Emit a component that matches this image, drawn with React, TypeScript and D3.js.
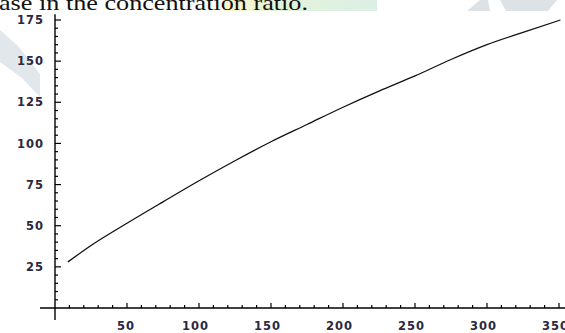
import React, { useRef, useEffect } from "react";
import * as d3 from "d3";

// concentration ratio (x) vs response (y)
const xValues = [9, 25, 50, 75, 100, 125, 150, 175, 200, 225, 250, 275, 300, 325, 351];
const yValues = [28, 38, 51.5, 64.5, 77.3, 89.5, 101, 111.5, 122, 131.8, 141, 151, 160, 167.5, 175];
const xTicks = [50, 100, 150, 200, 250, 300, 350];
const yTicks = [25, 50, 75, 100, 125, 150, 175];
const caption = "ase in the concentration ratio.";

const W = 565;
const H = 333;

const App = () => {
  const ref = useRef<SVGSVGElement>(null);

  useEffect(() => {
    const svg = d3.select(ref.current);
    svg.selectAll("*").remove();

    const x = d3.scaleLinear().domain([0, 350]).range([55, 559]);
    const y = d3.scaleLinear().domain([0, 175]).range([308, 20]);

    // scanned page background bits (watermark + highlight)
    const defs = svg.append("defs");
    const grad = defs.append("linearGradient").attr("id", "hl");
    grad.append("stop").attr("offset", "0%").attr("stop-color", "#fdf7c8");
    grad.append("stop").attr("offset", "35%").attr("stop-color", "#e3f3d9");
    grad.append("stop").attr("offset", "100%").attr("stop-color", "#dcefe6");
    svg.append("rect").attr("x", 223).attr("y", 0).attr("width", 154).attr("height", 11)
      .attr("fill", "url(#hl)");
    svg.append("path").attr("d", "M467,11 L480,0 L488,0 L490,11 Z").attr("fill", "#dde2e6");
    svg.append("path").attr("d", "M500,0 L557,0 L548,11 L506,11 Z").attr("fill", "#dde2e6");
    svg.append("path").attr("d", "M0,30 L18,46 L40,74 L40,97 L22,78 L0,62 Z").attr("fill", "#e2e7ec");

    svg.append("text")
      .attr("x", -1)
      .attr("y", 9.5)
      .attr("textLength", 309)
      .attr("lengthAdjust", "spacingAndGlyphs")
      .style("font-family", "'Liberation Serif', 'Times New Roman', serif")
      .style("font-size", "22px")
      .attr("fill", "#111")
      .text(caption);

    // axes
    const g = svg.append("g");
    g.append("line")
      .attr("x1", x(-10.4)).attr("x2", W)
      .attr("y1", y(0)).attr("y2", y(0))
      .attr("stroke", "#000").attr("stroke-width", 1.4);
    g.append("line")
      .attr("x1", x(0)).attr("x2", x(0))
      .attr("y1", y(-7.3)).attr("y2", y(178.5))
      .attr("stroke", "#000").attr("stroke-width", 1.4);

    const xMinor = d3.range(10, 360, 10).filter((v) => v % 50 !== 0);
    const yMinor = d3.range(5, 180, 5).filter((v) => v % 25 !== 0);

    g.selectAll(".xmin").data(xMinor).enter().append("line")
      .attr("x1", (d) => x(d)).attr("x2", (d) => x(d))
      .attr("y1", y(0)).attr("y2", y(0) - 3)
      .attr("stroke", "#000").attr("stroke-width", 1.2);
    g.selectAll(".xmaj").data(xTicks).enter().append("line")
      .attr("x1", (d) => x(d)).attr("x2", (d) => x(d))
      .attr("y1", y(0)).attr("y2", y(0) - 5)
      .attr("stroke", "#000").attr("stroke-width", 1.2);
    g.selectAll(".ymin").data(yMinor).enter().append("line")
      .attr("x1", x(0)).attr("x2", x(0) + 3)
      .attr("y1", (d) => y(d)).attr("y2", (d) => y(d))
      .attr("stroke", "#000").attr("stroke-width", 1.2);
    g.selectAll(".ymaj").data(yTicks).enter().append("line")
      .attr("x1", x(0)).attr("x2", x(0) + 6)
      .attr("y1", (d) => y(d)).attr("y2", (d) => y(d))
      .attr("stroke", "#000").attr("stroke-width", 1.2);

    const labelStyle = (sel: any) =>
      sel
        .style("font-family", "'DejaVu Sans', Verdana, sans-serif")
        .style("font-weight", "bold")
        .style("font-size", "11.5px")
        .style("letter-spacing", "1px")
        .attr("fill", "#2b2840");

    // labels sit a little left of their ticks, as in the original
    labelStyle(
      g.selectAll(".xl").data(xTicks).enter().append("text")
        .attr("x", (d) => x(d) + (d < 100 ? -1 : -3.5))
        .attr("y", 330)
        .attr("text-anchor", "middle")
        .text((d) => d)
    );
    labelStyle(
      g.selectAll(".yl").data(yTicks).enter().append("text")
        .attr("x", 44)
        .attr("y", (d) => y(d))
        .attr("dy", "0.36em")
        .attr("text-anchor", "end")
        .text((d) => d)
    );

    // curve
    const pts = xValues.map((v, i) => [v, yValues[i]] as [number, number]);
    const line = d3.line<[number, number]>()
      .x((d) => x(d[0]))
      .y((d) => y(d[1]))
      .curve(d3.curveMonotoneX);
    svg.append("path")
      .datum(pts)
      .attr("d", line)
      .attr("fill", "none")
      .attr("stroke", "#111")
      .attr("stroke-width", 1.3);
  }, []);

  return (
    <svg
      ref={ref}
      width={W}
      height={H}
      style={{ position: "absolute", left: 0, top: 0, background: "#fff" }}
    ></svg>
  );
};

export default App;
